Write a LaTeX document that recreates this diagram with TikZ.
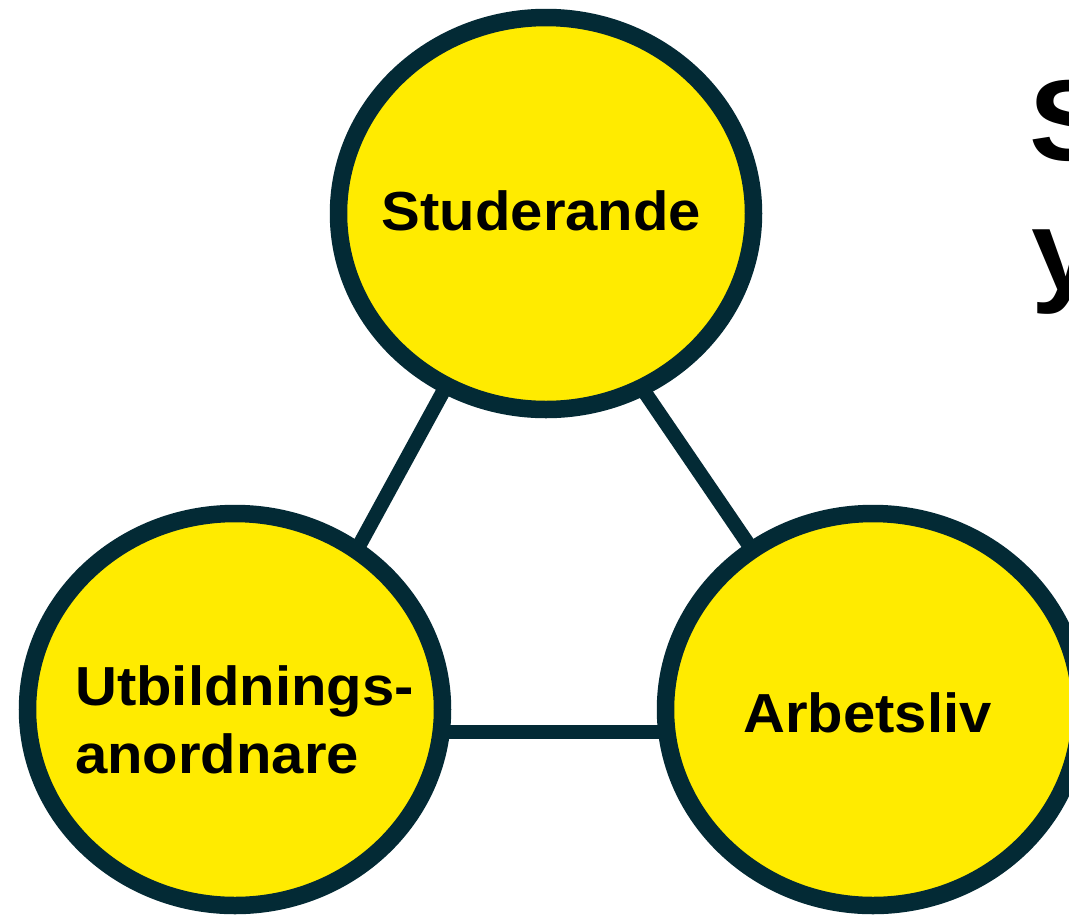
\documentclass[tikz,border=0pt]{standalone}
\usepackage{fontspec}
\setmainfont{Liberation Sans}
\usetikzlibrary{shapes.geometric}
\definecolor{ink}{HTML}{032A35}
\definecolor{sun}{HTML}{FFEB00}
\pgfdeclarelayer{background}
\pgfsetlayers{background,main}
\newcommand\stretchx[1]{\scalebox{1.055}[1]{#1}}
\tikzset{
  bubble/.style={ellipse, draw=ink, fill=sun, line width=17.5pt,
    minimum width=415pt, minimum height=392pt, inner sep=0pt},
  link/.style={draw=ink, line width=14.5pt, shorten <=-12pt, shorten >=-12pt},
  label/.style={font=\bfseries\fontsize{55}{68}\selectfont, text=black, inner sep=0pt},
  big/.style={font=\bfseries\fontsize{115}{130}\selectfont, text=black, inner sep=0pt, align=left}
}
\begin{document}
\begin{tikzpicture}[x=1pt,y=-1pt]
\clip (0,0) rectangle (1069,914);
\node[bubble] (stu) at (546,213.5) {};
\node[bubble] (utb) at (235,709.5) {};
\node[bubble] (arb) at (873,709.5) {};
\begin{pgfonlayer}{background}
\fill[white] (0,0) rectangle (1069,914);
\draw[link] (stu.240.2) -- (utb.53.1);
\draw[link] (stu.299.6) -- (arb.127.1);
\draw[link] (utb.354.4) -- (utb.354.4 -| arb.west);
\end{pgfonlayer}
\node[label, anchor=base] (tstu) at (541.5,230) {\stretchx{Studerande}};
\node[label, anchor=base west] (tutb1) at (75,705) {\stretchx{Utbildnings-}};
\node[label, anchor=base west] (tutb2) at (75,773) {\stretchx{anordnare}};
\node[label, anchor=base] (tarb) at (867.5,732) {\stretchx{Arbetsliv}};
\node[big, anchor=base west] (h1) at (1029,160) {\stretchx{S}};
\node[big, anchor=base west] (h2) at (1031,290) {\stretchx{y}};
\end{tikzpicture}
\end{document}
